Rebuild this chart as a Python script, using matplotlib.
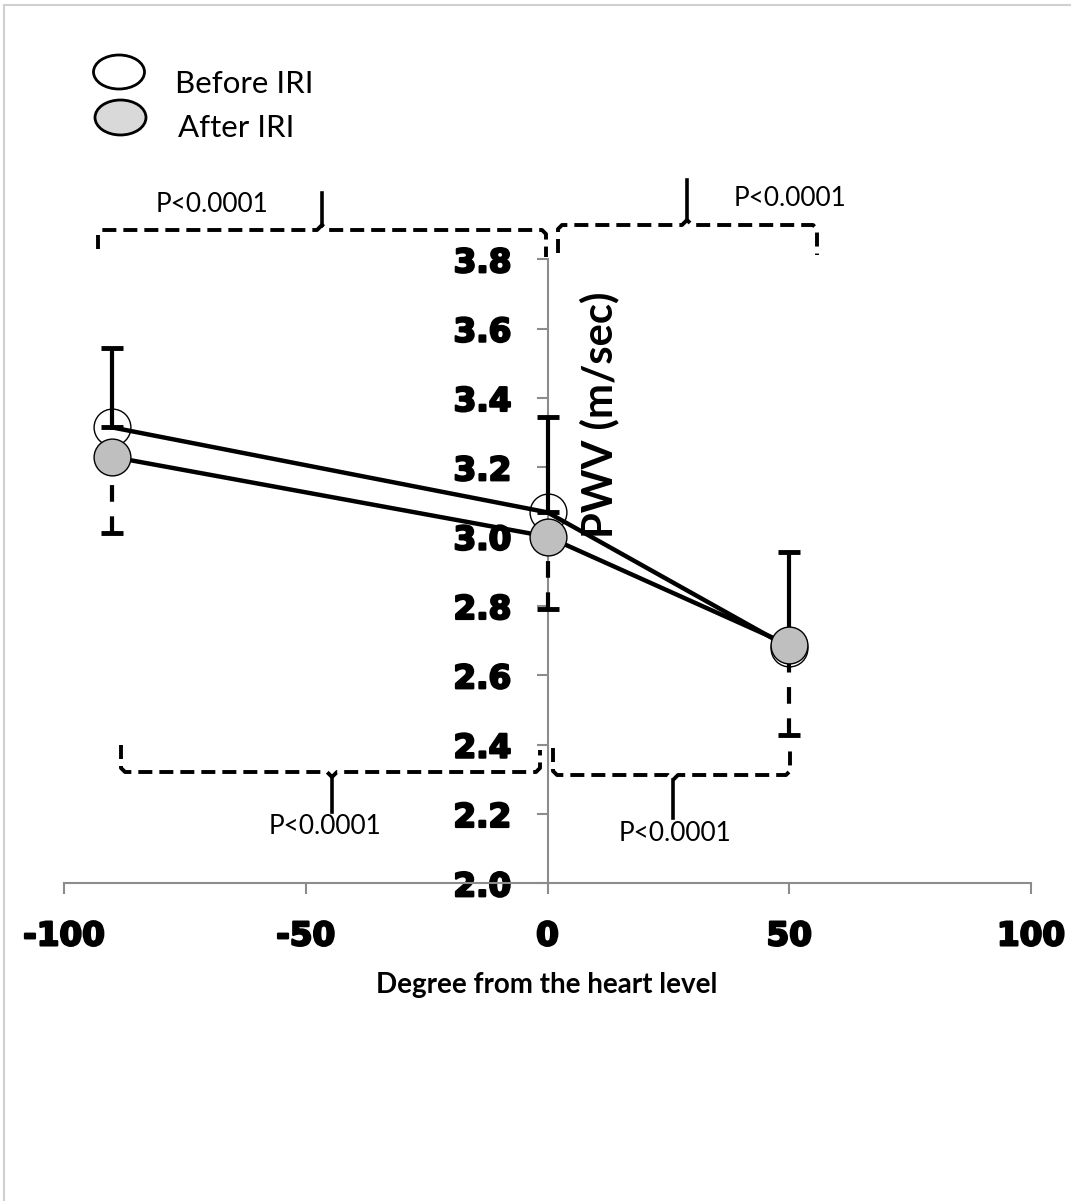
import numpy as np
import matplotlib
matplotlib.use("Agg")
import matplotlib.pyplot as plt
import matplotlib.patheffects as pe
from matplotlib.lines import Line2D
from matplotlib.patches import Ellipse

# data
angles = [-90, 0, 50]
before = [3.315, 3.07, 2.68]
after = [3.23, 3.00, 2.687]
before_sd = [0.228, 0.274, 0.276]
after_sd = [0.22, 0.21, 0.26]
xticks = [-100, -50, 0, 50, 100]
yticks = [2.0, 2.2, 2.4, 2.6, 2.8, 3.0, 3.2, 3.4, 3.6, 3.8]
p_text = "P<0.0001"

W, H = 1071, 1201
fig = plt.figure(figsize=(W / 100, H / 100), dpi=100)

def fx(px):
    return px / W

def fy(py):
    return 1 - py / H

# axes placed so that -100..100 and 2.0..3.8 land where the original has them
ax = fig.add_axes([fx(64), fy(883.3), (1031 - 64) / W, (883.3 - 259.3) / H])
ax.set_xlim(-100, 100)
ax.set_ylim(2.0, 3.8)

gray = "#8c8c8c"
for s in ["top", "right"]:
    ax.spines[s].set_visible(False)
ax.spines["left"].set_position(("data", 0))
for s in ["left", "bottom"]:
    ax.spines[s].set_color(gray)
    ax.spines[s].set_linewidth(1.5)

ax.set_xticks(xticks)
ax.set_xticklabels([str(v) for v in xticks])
ax.set_yticks(yticks)
ax.set_yticklabels(["%.1f" % v for v in yticks])
ax.tick_params(axis="both", colors=gray, width=1.5, length=8, direction="out", pad=18)
heavy = [pe.withStroke(linewidth=1.6, foreground="black")]
for lab in ax.get_xticklabels() + ax.get_yticklabels():
    lab.set_fontsize(23.5)
    lab.set_fontweight("bold")
    lab.set_color("black")
    lab.set_family("DejaVu Sans")
    lab.set_path_effects(heavy)

# before IRI: open circles, solid upper error bar
ax.plot(angles, before, "o", ms=26.5, mfc="white", mec="black", mew=1, zorder=2)
ax.plot(angles, before, "-", color="black", lw=3.2, zorder=3)
ax.errorbar(angles, before, yerr=[np.zeros(3), before_sd], fmt="none", ecolor="black",
            elinewidth=3, capsize=8, capthick=3.5, zorder=3)

# after IRI: grey circles, dashed lower error bar
ax.plot(angles, after, "-", color="black", lw=3.2, zorder=4)
eb = ax.errorbar(angles, after, yerr=[after_sd, np.zeros(3)], fmt="none", ecolor="black",
                 elinewidth=3, capsize=8, capthick=3.5, zorder=4)
eb[2][0].set_linestyle((0, (4, 3.5)))
ax.plot(angles, after, "o", ms=26.5, mfc="#bfbfbf", mec="black", mew=1, zorder=5)

fig.text(fx(599), fy(415), "PWV (m/sec)", rotation=90, fontsize=30, fontweight="bold",
         family="Lato", ha="center", va="center")
fig.text(fx(547), fy(985), "Degree from the heart level", fontsize=20, fontweight="bold",
         family="Lato", ha="center", va="center")

# legend drawn by hand, as in the original
fig.add_artist(Ellipse((fx(119), fy(72)), 51 / W, 34 / H, transform=fig.transFigure,
                       facecolor="white", edgecolor="black", lw=2))
fig.add_artist(Ellipse((fx(120.5), fy(117.5)), 51 / W, 35 / H, transform=fig.transFigure,
                       facecolor="#d9d9d9", edgecolor="black", lw=2))
fig.text(fx(175), fy(93), "Before IRI", fontsize=22.5, family="Lato", va="baseline")
fig.text(fx(178), fy(137), "After IRI", fontsize=22.5, family="Lato", va="baseline")


def brace(x0, x1, xc, y, yend0, yend1, ytip):
    # dashed bracket with a solid pointer in the middle
    d = 5 if ytip < y else -5
    xs = [x0, x0, x0 + 4, xc - 5, xc, xc + 5, x1 - 4, x1, x1]
    ys = [yend0, y + (4 if yend0 > y else -4), y, y, y - d, y, y,
          y + (4 if yend1 > y else -4), yend1]
    fig.add_artist(Line2D([fx(v) for v in xs], [fy(v) for v in ys], transform=fig.transFigure,
                          color="black", lw=2.8, linestyle=(0, (3.6, 1.8))))
    fig.add_artist(Line2D([fx(xc), fx(xc)], [fy(y - d), fy(ytip)], transform=fig.transFigure,
                          color="black", lw=2.6))


brace(98, 546, 322, 230, 249, 257, 193)
brace(558, 817, 687, 225, 253, 255, 180)
brace(121, 540, 332, 772, 745, 750, 812)
brace(553, 790, 673, 775, 748, 747, 818)

for cx, base in [(212, 212), (790, 206), (325, 834), (675, 841)]:
    fig.text(fx(cx), fy(base), p_text, fontsize=18.8, family="Lato", ha="center", va="baseline")

# faint frame on left and top edges
fig.add_artist(Line2D([fx(4), fx(4)], [0, fy(5)], transform=fig.transFigure, color="#d0d0d0", lw=1.5))
fig.add_artist(Line2D([fx(4), 1], [fy(5), fy(5)], transform=fig.transFigure, color="#d0d0d0", lw=1.5))

fig.savefig("out.png", dpi=100)
